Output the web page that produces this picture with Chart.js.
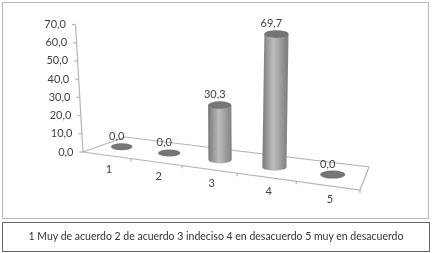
<!DOCTYPE html>
<html>
<head>
<meta charset="utf-8">
<script src="https://cdn.jsdelivr.net/npm/chart.js@4/dist/chart.umd.min.js"></script>
<style>
  html, body { margin: 0; padding: 0; background: #fff; }
  #wrap { position: relative; width: 432px; height: 253px; overflow: hidden; filter: blur(0.35px); }
  #chart { position: absolute; left: 0; top: 0; }
  #frame { position: absolute; left: 2px; top: 2px; width: 425px; height: 215px; border: 1.5px solid #b9b9b9; }
  #caption {
    position: absolute; left: 2px; top: 222px; width: 426px; height: 28px;
    border: 1.2px solid #666; text-align: center; color: #333; white-space: nowrap;
    font: 10.5px Lato, sans-serif; line-height: 27px;
  }
</style>
</head>
<body>
<div id="wrap">
  <div id="frame"></div>
  <canvas id="chart" width="432" height="253"></canvas>
  <div id="caption">1 Muy de acuerdo 2 de acuerdo 3 indeciso 4 en desacuerdo 5 muy en desacuerdo</div>
</div>
<script>
// Categories and values
const categories = ['1', '2', '3', '4', '5'];
const percentages = [0.0, 0.0, 30.3, 69.7, 0.0];
const yMax = 70;
const yStep = 10;

// Corners of the tilted floor, in canvas pixels
const floorFrontLeft = [83, 152];
const floorFrontRight = [360, 190];
const floorBackRight = [369, 167];
const floorBackLeft = [125, 137];

const labelFont = '11px Lato, sans-serif';
const labelColor = '#3f3f3f';

// Unit square -> floor quad (projective map)
function makeFloorMap(p0, p1, p2, p3) {
  const dx1 = p1[0] - p2[0], dx2 = p3[0] - p2[0], sx = p0[0] - p1[0] + p2[0] - p3[0];
  const dy1 = p1[1] - p2[1], dy2 = p3[1] - p2[1], sy = p0[1] - p1[1] + p2[1] - p3[1];
  const den = dx1 * dy2 - dx2 * dy1;
  const g = (sx * dy2 - dx2 * sy) / den;
  const h = (dx1 * sy - sx * dy1) / den;
  const a = p1[0] - p0[0] + g * p1[0], b = p3[0] - p0[0] + h * p3[0];
  const d = p1[1] - p0[1] + g * p1[1], e = p3[1] - p0[1] + h * p3[1];
  return (u, v) => {
    const w = g * u + h * v + 1;
    return [(a * u + b * v + p0[0]) / w, (d * u + e * v + p0[1]) / w];
  };
}
const floorAt = makeFloorMap(floorFrontLeft, floorFrontRight, floorBackRight, floorBackLeft);

function line(ctx, a, b) {
  ctx.beginPath();
  ctx.moveTo(a[0], a[1]);
  ctx.lineTo(b[0], b[1]);
  ctx.stroke();
}

// Floor, slanted value axis, category ticks and labels
const axes3d = {
  id: 'axes3d',
  beforeDatasetsDraw(chart) {
    const ctx = chart.ctx;
    const xs = chart.scales.x, ys = chart.scales.y;
    const area = chart.chartArea;
    ctx.save();
    ctx.strokeStyle = '#b4b4b4';
    ctx.lineWidth = 1.2;
    ctx.beginPath();
    [floorFrontLeft, floorFrontRight, floorBackRight, floorBackLeft].forEach(p => ctx.lineTo(p[0], p[1]));
    ctx.closePath();
    ctx.stroke();

    // value axis leans to the left going up
    const zero = ys.getPixelForValue(0);
    const axisX = y => floorFrontLeft[0] + (y - zero) * 0.059;
    line(ctx, [axisX(zero), zero], [axisX(area.top), area.top]);
    ctx.font = labelFont;
    ctx.fillStyle = labelColor;
    ctx.textAlign = 'right';
    ctx.textBaseline = 'middle';
    ys.ticks.forEach(t => {
      const y = ys.getPixelForValue(t.value);
      line(ctx, [axisX(y) - 3.5, y], [axisX(y), y]);
      ctx.fillText(t.value.toFixed(1).replace('.', ','), axisX(y) - 9.5, y);
    });

    // ticks between categories, labels centred below each slot
    ctx.textAlign = 'center';
    categories.forEach((c, i) => {
      const u = (xs.getPixelForValue(i) - area.left) / area.width;
      const edge = floorAt(u + 0.5 / categories.length, 0);
      line(ctx, edge, [edge[0], edge[1] + 3]);
      const p = floorAt(u, 0);
      ctx.fillText(xs.getLabelForValue(i), p[0] + 2.5, p[1] + 14);
    });
    ctx.restore();
  }
};

// Replaces the flat bars with cylinders standing on the floor
const cylinders = {
  id: 'cylinders',
  beforeDatasetDraw(chart, args) {
    const ctx = chart.ctx;
    const area = chart.chartArea;
    ctx.save();
    args.meta.data.forEach((bar, i) => {
      const u = (bar.x - area.left) / area.width;
      const foot = floorAt(u, 0.35);
      const base = [foot[0], foot[1] - 2.5];
      const rx = bar.width / 2 * (0.95 + 0.2 * u);
      const ry = rx * 0.32;
      const rise = (bar.base - bar.y) * (0.85 + 0.28 * u);
      const lean = -0.059 + 0.106 * u;
      const top = [base[0] + rise * lean, base[1] - rise];

      if (rise > 0) {
        const grad = ctx.createLinearGradient(base[0] - rx, 0, base[0] + rx, 0);
        grad.addColorStop(0, '#7a7a7a');
        grad.addColorStop(0.45, '#bdbdbd');
        grad.addColorStop(1, '#828282');
        ctx.fillStyle = grad;
        ctx.beginPath();
        ctx.ellipse(base[0], base[1], rx, ry, 0, 0, Math.PI);
        ctx.lineTo(top[0] - rx, top[1]);
        ctx.lineTo(top[0] + rx, top[1]);
        ctx.closePath();
        ctx.fill();
      }
      ctx.fillStyle = '#757575';
      ctx.beginPath();
      ctx.ellipse(top[0], top[1], rx, ry, 0, 0, Math.PI * 2);
      ctx.fill();

      ctx.font = labelFont;
      ctx.fillStyle = labelColor;
      ctx.textAlign = 'center';
      ctx.textBaseline = 'middle';
      ctx.fillText(percentages[i].toFixed(1).replace('.', ','), top[0] - 5, top[1] - 10.5);
    });
    ctx.restore();
    return false;
  }
};

new Chart(document.getElementById('chart'), {
  type: 'bar',
  data: {
    labels: categories,
    datasets: [{ data: percentages, barPercentage: 0.4, categoryPercentage: 1 }]
  },
  options: {
    responsive: false,
    animation: false,
    layout: {
      padding: {
        left: floorFrontLeft[0],
        right: 432 - floorFrontRight[0],
        top: 24.5,
        bottom: 253 - floorFrontLeft[1]
      }
    },
    plugins: { legend: { display: false }, tooltip: { enabled: false } },
    scales: {
      x: { display: false },
      y: { display: false, min: 0, max: yMax, ticks: { stepSize: yStep } }
    }
  },
  plugins: [axes3d, cylinders]
});
</script>
</body>
</html>
